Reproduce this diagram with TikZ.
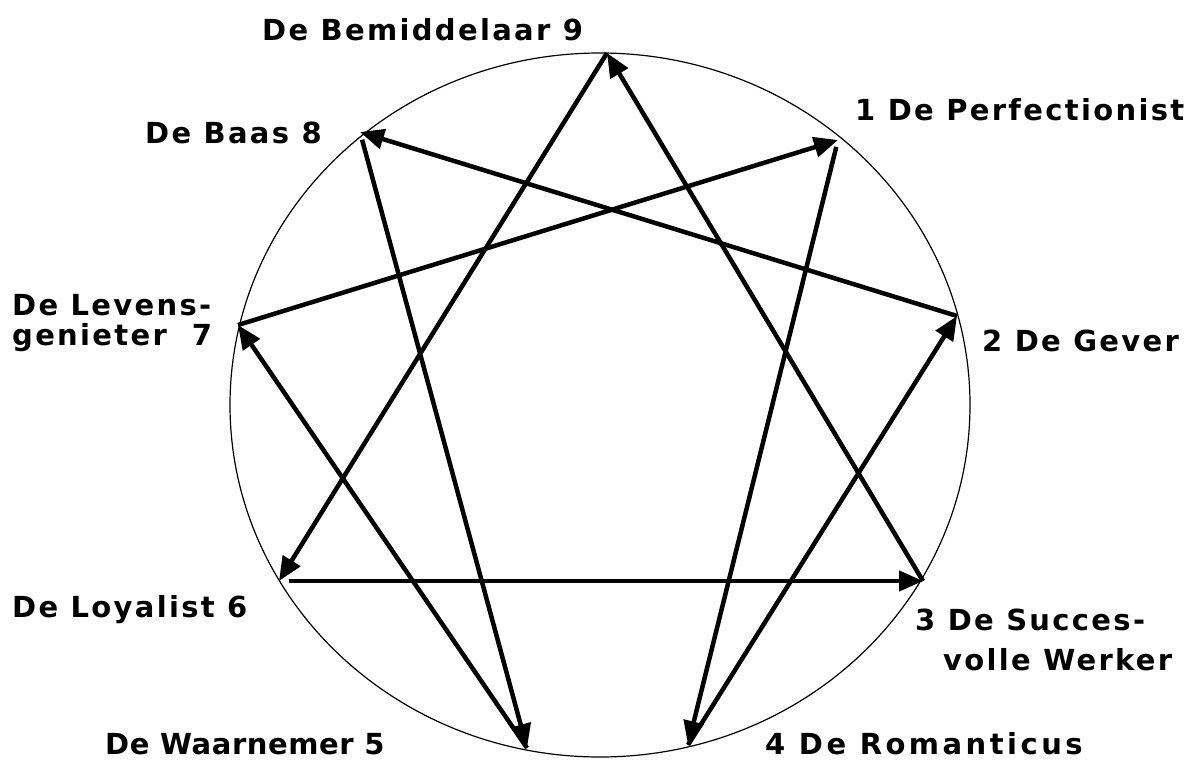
\documentclass[tikz,border=0pt]{standalone}
\usepackage{fontspec}
\setmainfont{DejaVu Sans}[LetterSpace=8]
\usetikzlibrary{arrows.meta}
\begin{document}
\begin{tikzpicture}[x=1pt,y=-1pt,
  lbl/.style={inner sep=0pt, anchor=base west, font=\bfseries\fontsize{29}{31}\selectfont},
  edge/.style={line width=4.5pt, -{Triangle[length=24pt,width=20pt]}},
  rim/.style={line width=1.2pt}]
\useasboundingbox (0,0) rectangle (1199,760);
\draw[rim] (600,405) ellipse [x radius=370pt, y radius=352pt];
\coordinate (p9) at (607,53);
\coordinate (p1) at (838,140);
\coordinate (p2) at (957,316);
\coordinate (p3) at (923,581);
\coordinate (p4) at (688,745);
\coordinate (p5) at (527,748);
\coordinate (p6) at (279,581);
\coordinate (p7) at (238,325);
\coordinate (p8) at (360,132);
\draw[edge] (p9) -- (p6);
\draw[edge, shorten <=10pt] (p6) -- (p3);
\draw[edge] (p3) -- (p9);
\draw[edge, shorten <=7pt] (p1) -- (p4);
\draw[edge] (p4) -- (p2);
\draw[edge] (p2) -- (p8);
\draw[edge, shorten <=8pt] (p8) -- (p5);
\draw[edge] (p5) -- (p7);
\draw[edge] (p7) -- (p1);
\node[lbl] (l9) at (262,41) {De Bemiddelaar 9};
\node[lbl] (l1) at (855,120) {1 De Perfectionist};
\node[lbl] (l8) at (145,143) {De Baas 8};
\node[lbl] (l7a) at (12,315) {De Levens-};
\node[lbl] (l7b) at (12,345) {genieter\ \ 7};
\node[lbl] (l2) at (982,351) {2 De Gever};
\node[lbl] (l3a) at (915,630) {3 De Succes-};
\node[lbl] (l3b) at (943,670) {volle Werker};
\node[lbl] (l6) at (12,617) {De Loyalist 6};
\node[lbl] (l5) at (105,754) {\addfontfeatures{LetterSpace=2}De Waarnemer 5};
\node[lbl] (l4) at (765,754) {\addfontfeatures{LetterSpace=12}4 De Romanticus};
\end{tikzpicture}
\end{document}
